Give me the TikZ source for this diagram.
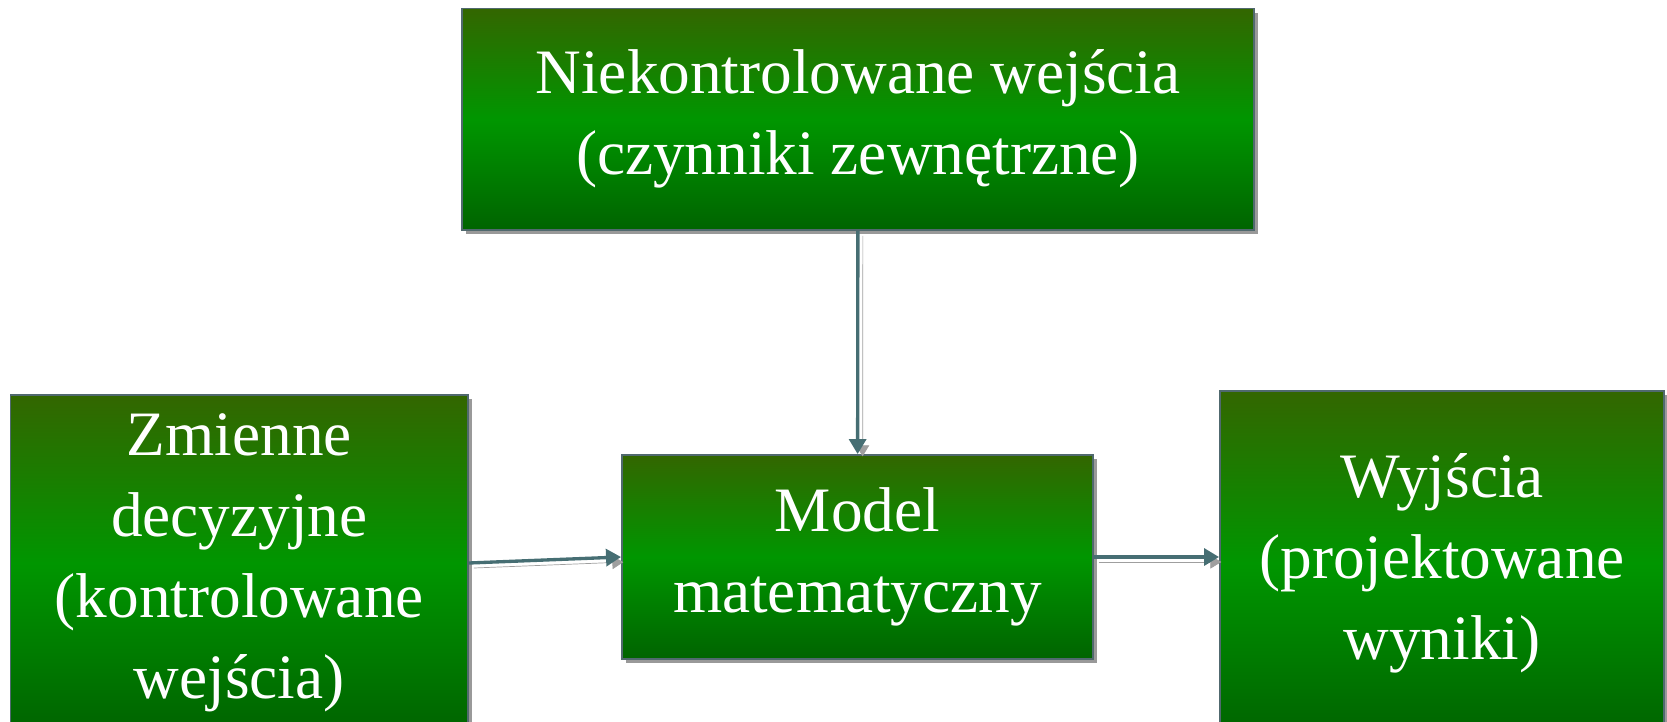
\documentclass[tikz,border=0pt]{standalone}
\usepackage{fontspec}
\setmainfont{Liberation Serif}
\usetikzlibrary{arrows.meta, positioning, shadows}
\definecolor{boxtop}{RGB}{51,102,0}
\definecolor{boxmid}{RGB}{0,150,0}
\definecolor{boxbottom}{RGB}{0,100,0}
\definecolor{boxedge}{RGB}{80,105,110}
\definecolor{arrowslate}{RGB}{70,110,115}

\begin{document}
\begin{tikzpicture}[
    block/.style={rectangle, draw=boxedge, line width=1.1pt, top color=boxtop, bottom color=boxbottom, middle color=boxmid, drop shadow={shadow xshift=2.5pt, shadow yshift=-2.5pt, fill=gray, opacity=0.8}, text=white, align=center, font=\fontsize{36}{46}\selectfont},
    arrow/.style={-{Triangle[length=0.3cm, width=0.34cm]}, line width=1.9pt, color=arrowslate, preaction={draw=gray!75, transform canvas={shift={(0.1,-0.1)}}}}
]
\useasboundingbox (0,0) rectangle (33.34,14.42);

% Uncontrolled inputs
\node[block, minimum width=15.84cm, minimum height=4.43cm] (uncontrolled) at (17.16,12.035) {Niekontrolowane wejścia\\(czynniki zewnętrzne)};

% Decision variables
\node[block, minimum width=9.15cm, minimum height=6.72cm] (decision) at (4.785,3.16) {Zmienne\\decyzyjne\\(kontrolowane\\wejścia)};

% Model
\node[block, minimum width=9.42cm, minimum height=4.08cm] (model) at (17.15,3.28) {Model\\matematyczny};

% Outputs
\node[block, minimum width=8.88cm, minimum height=6.88cm] (outputs) at (28.84,3.16) {Wyjścia\\(projektowane\\wyniki)};

% Arrows
\draw[arrow] (uncontrolled) -- (model);
\draw[arrow] (decision.east) -- (model.west);
\draw[arrow] (model.east) -- (model.east -| outputs.west);

\end{tikzpicture}
\end{document}
